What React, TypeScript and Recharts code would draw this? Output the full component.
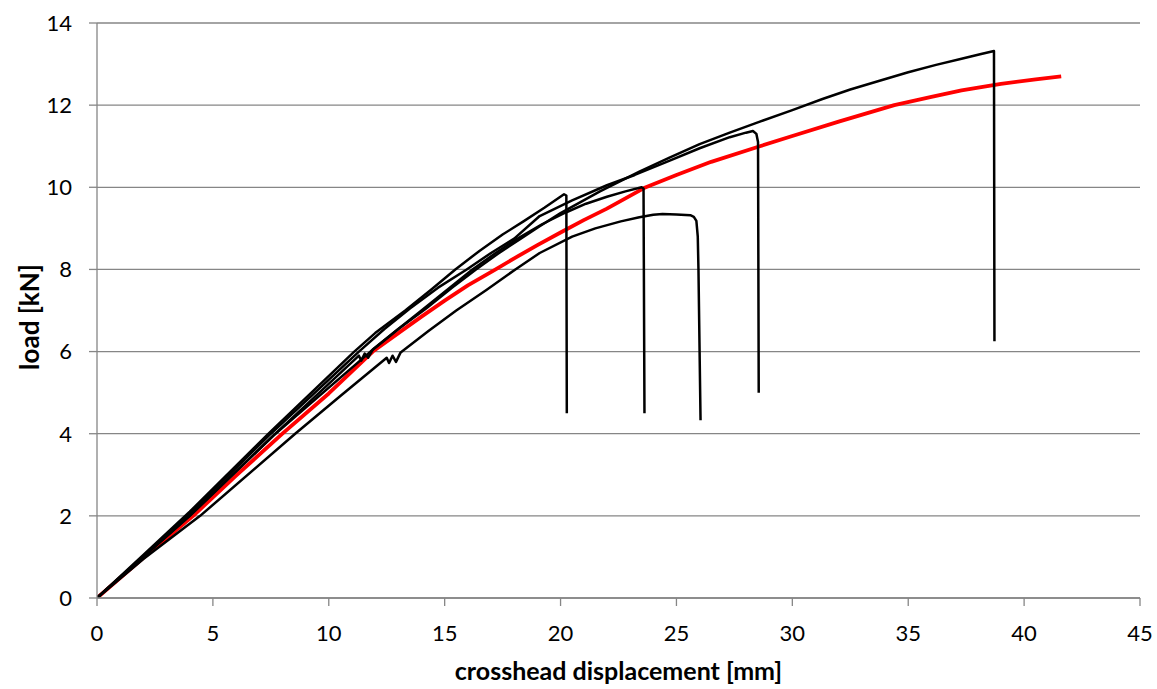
import React from 'react';
import { LineChart, Line, XAxis, YAxis, CartesianGrid } from 'recharts';

// tick labels
const xTicks = [0, 5, 10, 15, 20, 25, 30, 35, 40, 45];
const yTicks = [0, 2, 4, 6, 8, 10, 12, 14];

// mean curve (red)
const meanX = [0, 2, 4.15, 6, 8, 10, 11.9, 13, 14, 15, 16, 17.2, 18, 19, 20, 21, 22, 23.6, 25, 26.5, 28.6, 30, 32, 34.4, 36, 37.3, 39, 40.5, 41.6];
const meanY = [0, 0.98, 2, 2.98, 4, 4.98, 6, 6.45, 6.85, 7.24, 7.61, 8.0, 8.27, 8.59, 8.9, 9.2, 9.48, 9.98, 10.3, 10.62, 11.0, 11.25, 11.6, 12.0, 12.2, 12.36, 12.52, 12.63, 12.7];

// specimen A (peak ~9.8 kN at 20.2 mm)
const specAX = [0, 2, 4, 7.4, 11.1, 12, 13.3, 14.4, 15.46, 16.5, 17.5, 18.4, 19.3, 20.15, 20.25, 20.27];
const specAY = [0, 1.05, 2.1, 4, 6, 6.45, 7.0, 7.5, 8.0, 8.45, 8.85, 9.17, 9.5, 9.83, 9.8, 4.5];

// specimen B (peak ~10.0 kN at 23.6 mm)
const specBX = [0, 2, 4, 7.7, 11.3, 11.4, 11.55, 11.7, 11.9, 13, 14, 15.1, 16.2, 17.2, 18.2, 19.2, 20.2, 21.1, 22, 22.8, 23.5, 23.58, 23.62];
const specBY = [0, 1.0, 2.0, 4, 5.9, 5.78, 5.95, 5.85, 6.05, 6.55, 7.0, 7.5, 8.0, 8.4, 8.77, 9.1, 9.38, 9.6, 9.77, 9.9, 10.0, 9.97, 4.5];

// specimen C (plateau ~9.33 kN, fails at 26 mm)
const specCX = [0, 2, 4.45, 8.55, 10.5, 12.5, 12.6, 12.75, 12.9, 13.1, 14.3, 15.5, 16.8, 18.05, 19.1, 20.5, 21.5, 22.6, 23.4, 24, 24.4, 25, 25.6, 25.75, 25.86, 25.92, 25.95, 26.04];
const specCY = [0, 0.95, 2, 4, 4.92, 5.85, 5.72, 5.9, 5.75, 5.98, 6.5, 7.0, 7.5, 8.0, 8.4, 8.8, 9.0, 9.17, 9.27, 9.33, 9.35, 9.34, 9.32, 9.28, 9.18, 8.8, 8.0, 4.33];

// specimen D (peak ~11.4 kN at 28.3 mm)
const specDX = [0, 2, 4, 7.5, 11.3, 12.4, 13.5, 14.7, 15.95, 17, 18, 19.1, 20.5, 22, 23.2, 24.5, 26, 27.3, 28.0, 28.3, 28.45, 28.52, 28.55];
const specDY = [0, 1.02, 2.05, 4, 6, 6.55, 7.05, 7.55, 8, 8.4, 8.75, 9.3, 9.68, 10.05, 10.3, 10.6, 10.95, 11.22, 11.33, 11.37, 11.3, 11.1, 5.0];

// specimen E (peak ~13.3 kN at 38.7 mm)
const specEX = [0, 2, 4, 7.6, 11.8, 13, 14.2, 15.3, 16.35, 17.3, 18.2, 19.1, 20, 21.7, 23.4, 24.7, 26, 27.3, 28.6, 30, 31.3, 32.5, 33.8, 35, 36.2, 37.3, 38.1, 38.7, 38.72];
const specEY = [0, 1.0, 2.0, 3.95, 6, 6.55, 7.05, 7.55, 8.0, 8.38, 8.72, 9.05, 9.37, 9.9, 10.38, 10.72, 11.05, 11.33, 11.6, 11.88, 12.15, 12.38, 12.6, 12.8, 12.98, 13.13, 13.24, 13.32, 6.25];

const toPoints = (xs: number[], ys: number[]) => xs.map((x, i) => ({ x, y: ys[i] }));

const meanData = toPoints(meanX, meanY);
const blackSeries = [
  toPoints(specAX, specAY),
  toPoints(specBX, specBY),
  toPoints(specCX, specCY),
  toPoints(specDX, specDY),
  toPoints(specEX, specEY),
];

const FONT = 'Lato, "Open Sans", sans-serif';
const GRID = '#868686';

const YTitle = () => (
  <text
    x={39}
    y={317}
    transform="rotate(-90 39 317)"
    textAnchor="middle"
    fontFamily={FONT}
    fontWeight={700}
    fontSize={26}
    fill="#000"
  >
    load [kN]
  </text>
);

export default function App() {
  return (
    <div style={{ position: 'absolute', left: 0, top: 0, width: 1157, height: 689, background: '#fff' }}>
      <LineChart width={1157} height={689} margin={{ top: 23, right: 17, bottom: 0, left: 0 }}>
        <CartesianGrid vertical={false} stroke={GRID} strokeWidth={1.3} />
        <XAxis
          type="number"
          dataKey="x"
          domain={[0, 45]}
          ticks={xTicks}
          allowDataOverflow
          height={91}
          stroke={GRID}
          strokeWidth={1.3}
          tickSize={8}
          tickMargin={19}
          tick={{ fill: '#000', fontSize: 22, fontFamily: FONT }}
          label={{
            value: 'crosshead displacement [mm]',
            position: 'insideBottom',
            offset: 9,
            style: { fontFamily: FONT, fontWeight: 700, fontSize: 25, fill: '#000' },
          }}
        />
        <YAxis
          type="number"
          dataKey="y"
          domain={[0, 14]}
          ticks={yTicks}
          allowDataOverflow
          width={97}
          stroke={GRID}
          strokeWidth={1.3}
          tickSize={8}
          tickMargin={17}
          tick={{ fill: '#000', fontSize: 22, fontFamily: FONT }}
          label={<YTitle />}
        />
        <Line
          data={meanData}
          dataKey="y"
          type="linear"
          stroke="#ff0000"
          strokeWidth={3.8}
          strokeLinejoin="round"
          dot={false}
          activeDot={false}
          isAnimationActive={false}
        />
        {blackSeries.map((d, i) => (
          <Line
            key={i}
            data={d}
            dataKey="y"
            type="linear"
            stroke="#000"
            strokeWidth={2.5}
            strokeLinejoin="round"
            dot={false}
            activeDot={false}
            isAnimationActive={false}
          />
        ))}
      </LineChart>
    </div>
  );
}
